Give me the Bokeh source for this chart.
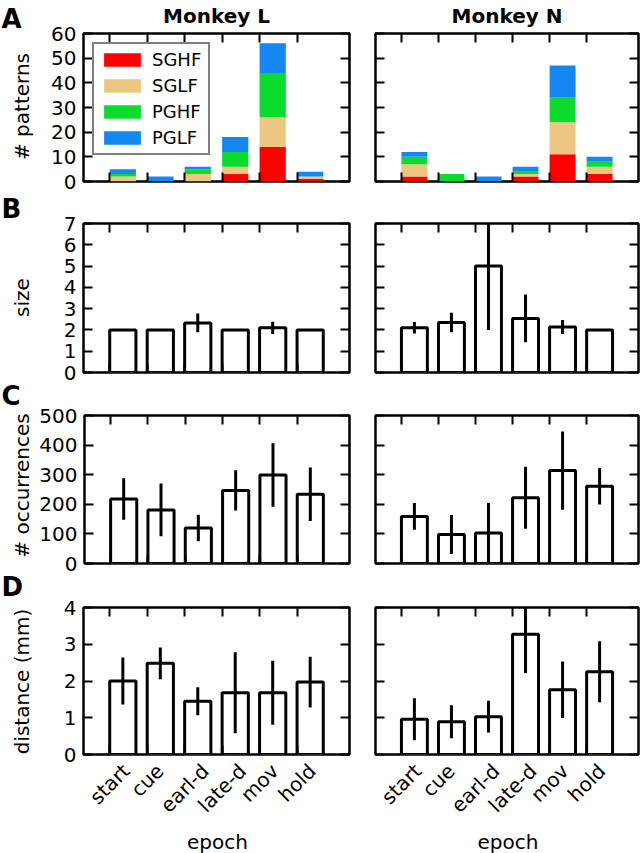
from math import pi, sqrt

from bokeh.plotting import figure
from bokeh.layouts import column, row
from bokeh.models import (Range1d, FixedTicker, LinearAxis, ColumnDataSource,
                          CustomJSTickFormatter)
from bokeh.core.properties import value
from bokeh.embed import file_html
from bokeh.resources import INLINE

# ---------------- data ----------------
EPOCHS = ["start", "cue", "earl-d", "late-d", "mov", "hold"]
CLASSES = ["SGHF", "SGLF", "PGHF", "PGLF"]
CLASS_COLORS = ["#FF0000", "#EDC682", "#0BDB2C", "#1487F2"]

# panel A: number of patterns (stacked)
PAT_L_SGHF = [0, 0, 0, 3, 14, 1]
PAT_L_SGLF = [2, 0, 3, 3, 12, 1]
PAT_L_PGHF = [1, 0, 2, 6, 18, 0]
PAT_L_PGLF = [2, 2, 1, 6, 12, 2]
PAT_N_SGHF = [2, 0, 0, 2, 11, 3]
PAT_N_SGLF = [5, 0, 0, 1, 13, 3]
PAT_N_PGHF = [3, 3, 0, 1, 10, 2]
PAT_N_PGLF = [2, 0, 2, 2, 13, 2]

# panel B: size
SIZE_L = [2.0, 2.0, 2.33, 2.0, 2.1, 2.0]
SIZE_L_ERR = [0.0, 0.0, 0.44, 0.0, 0.29, 0.0]
SIZE_N = [2.1, 2.35, 5.0, 2.54, 2.14, 2.0]
SIZE_N_ERR = [0.27, 0.46, 3.0, 1.12, 0.33, 0.0]

# panel C: occurrences
OCC_L = [218, 181, 120, 247, 299, 234]
OCC_L_ERR = [70, 89, 45, 68, 107, 90]
OCC_N = [159, 98, 103, 222, 314, 261]
OCC_N_ERR = [45, 66, 101, 105, 132, 62]

# panel D: distance (mm)
DIST_L = [2.0, 2.48, 1.45, 1.68, 1.68, 1.97]
DIST_L_ERR = [0.64, 0.43, 0.38, 1.1, 0.87, 0.69]
DIST_N = [0.96, 0.89, 1.03, 3.27, 1.76, 2.25]
DIST_N_ERR = [0.57, 0.45, 0.43, 1.05, 0.77, 0.83]

PANELS = ["A", "B", "C", "D"]
YLABELS = ["# patterns", "size", "# occurrences", "distance (mm)"]
XLABEL = "epoch"
X_TICKS = [0, 1, 2, 3, 4, 5]
YTICKS_A = [0, 10, 20, 30, 40, 50, 60]
YTICKS_B = [0, 1, 2, 3, 4, 5, 6, 7]
YTICKS_C = [0, 100, 200, 300, 400, 500]
YTICKS_D = [0, 1, 2, 3, 4]

# ---------------- styling / geometry ----------------
FONT = "DejaVu Sans"
BAR_W = 0.7
XC = [t + BAR_W / 2 for t in X_TICKS]   # bars are edge-aligned at the ticks
X_LO, X_HI = -0.7, 6.4

TOTAL_W, TOTAL_H = 640, 853
COL0_W = 36
L_BORDERS = (47, 13)   # left figure: left / right border
R_BORDERS = (13, 2)
L_FRAME_W, R_FRAME_W = 266, 263
# (top border, frame height, bottom border)
ROWS = {"A": (33, 148, 17), "B": (25, 149, 12), "C": (31, 148, 13), "D": (31, 147, 76)}
ROW_H = {k: sum(v) for k, v in ROWS.items()}
STRIP_H = TOTAL_H - sum(ROW_H.values())
# page positions (text centres) of the texts drawn in the margin strips
LETTER_MID_Y = {"A": 18.8, "B": 208.8, "C": 395.5, "D": 586.8}
YLABEL_MID_Y = {"A": 106, "B": 297, "C": 485, "D": 681}
YLABEL_MID_X = 21
XLABEL_MID_X = [217, 507.5]
XLABEL_MID_Y = 841.6

# DejaVu Sans advance widths (em) for centring the rotated epoch labels
ADV = {"s": .521, "t": .392, "a": .613, "r": .411, "c": .550, "u": .634,
       "e": .615, "l": .278, "-": .361, "d": .635, "m": .974, "o": .612,
       "v": .592, "h": .634}
TICK_FS = 20


def hide_labels(ax):
    ax.major_label_text_color = None
    ax.major_label_text_font_size = "0px"
    ax.major_label_standoff = 0


def style_axis(ax, ticks, show):
    ax.ticker = FixedTicker(ticks=ticks)
    ax.axis_line_color = None
    ax.major_tick_in = 9
    ax.major_tick_out = 0
    ax.major_tick_line_width = 2
    ax.major_tick_line_color = "black"
    ax.minor_tick_line_color = None
    ax.major_label_text_font = FONT
    if show:
        ax.major_label_text_color = "black"
        ax.major_label_text_font_size = "%dpx" % TICK_FS
        ax.major_label_standoff = 7
    else:
        hide_labels(ax)


def make_fig(panel, side, ymax, yticks):
    top, fh, bottom = ROWS[panel]
    if side == "L":
        (bl, br), fw = L_BORDERS, L_FRAME_W
    else:
        (bl, br), fw = R_BORDERS, R_FRAME_W
    p = figure(width=bl + fw + br, height=top + fh + bottom,
               x_range=Range1d(X_LO, X_HI), y_range=Range1d(0, ymax),
               output_backend="svg", toolbar_location=None,
               min_border_left=bl, min_border_right=br,
               min_border_top=top, min_border_bottom=bottom)
    p.xgrid.visible = False
    p.ygrid.visible = False
    p.outline_line_color = "black"
    p.outline_line_width = 2.5
    p.background_fill_color = "white"
    p.border_fill_color = "white"
    p.add_layout(LinearAxis(), "above")
    p.add_layout(LinearAxis(), "right")
    for ax in p.xaxis:
        style_axis(ax, X_TICKS, False)
    for ax in p.yaxis:
        style_axis(ax, yticks, False)
    if side == "L":
        style_axis(p.left[0], yticks, True)
    if panel == "A":
        p.title.text = "Monkey L" if side == "L" else "Monkey N"
        p.title.align = "center"
        p.title.vertical_align = "top"
        p.title.text_font = FONT
        p.title.text_font_size = "20px"
        p.title.text_font_style = "bold"
        p.title.text_color = "black"
        p.title.standoff = 7
    if panel == "D":
        # epoch names: an extra axis whose ticks sit so that each rotated
        # name is centred on its tick (as the reference does)
        px_per_unit = fw / (X_HI - X_LO)
        shifts = [sum(ADV[c] for c in name) * TICK_FS / (2 * sqrt(2)) / px_per_unit
                  for name in EPOCHS]
        lab_ticks = [round(t + s, 4) for t, s in zip(X_TICKS, shifts)]
        lab = LinearAxis(ticker=FixedTicker(ticks=lab_ticks),
                         formatter=CustomJSTickFormatter(
                             args=dict(names=EPOCHS), code="return names[index]"))
        lab.axis_line_color = None
        lab.major_tick_line_color = None
        lab.minor_tick_line_color = None
        lab.major_tick_out = 0
        lab.major_tick_in = 0
        lab.major_label_orientation = pi / 4
        lab.major_label_standoff = 13
        lab.major_label_text_font = FONT
        lab.major_label_text_font_size = "%dpx" % TICK_FS
        lab.major_label_text_color = "black"
        p.add_layout(lab, "below")
    return p


def stacked(p, parts, legend):
    data = dict(x=XC)
    for name, vals in zip(CLASSES, parts):
        data[name] = vals
    src = ColumnDataSource(data)
    kw = dict(legend_label=CLASSES) if legend else {}
    p.vbar_stack(CLASSES, x="x", width=BAR_W, source=src,
                 fill_color=CLASS_COLORS, line_color=None, **kw)
    if legend:
        lg = p.legend[0]
        lg.location = "top_left"
        lg.margin = 9
        lg.padding = 5
        lg.spacing = 5
        lg.glyph_width = 46
        lg.glyph_height = 17
        lg.label_height = 21
        lg.label_width = 51
        lg.label_standoff = 7
        lg.label_text_font = FONT
        lg.label_text_font_size = "18px"
        lg.label_text_color = "black"
        lg.border_line_color = "black"
        lg.border_line_width = 2.5
        lg.background_fill_color = "white"
        lg.background_fill_alpha = 1.0


def bars(p, vals, errs):
    p.vbar(x=XC, top=vals, width=BAR_W, bottom=0, fill_color="white",
           line_color="black", line_width=3)
    lo = [v - e for v, e in zip(vals, errs)]
    hi = [v + e for v, e in zip(vals, errs)]
    p.segment(x0=XC, y0=lo, x1=XC, y1=hi, line_color="black", line_width=3)


def text_strip(width, height, x0, y0):
    """A bare figure whose frame covers it; coordinates are page pixels."""
    s = figure(width=width, height=height, x_range=Range1d(x0, x0 + width),
               y_range=Range1d(TOTAL_H - y0 - height, TOTAL_H - y0),
               output_backend="svg", toolbar_location=None, min_border=0,
               x_axis_type=None, y_axis_type=None, outline_line_color=None)
    s.xgrid.visible = False
    s.ygrid.visible = False
    return s


aL = make_fig("A", "L", 60, YTICKS_A)
stacked(aL, [PAT_L_SGHF, PAT_L_SGLF, PAT_L_PGHF, PAT_L_PGLF], True)
aN = make_fig("A", "N", 60, YTICKS_A)
stacked(aN, [PAT_N_SGHF, PAT_N_SGLF, PAT_N_PGHF, PAT_N_PGLF], False)

bL = make_fig("B", "L", 7, YTICKS_B)
bars(bL, SIZE_L, SIZE_L_ERR)
bN = make_fig("B", "N", 7, YTICKS_B)
bars(bN, SIZE_N, SIZE_N_ERR)

cL = make_fig("C", "L", 500, YTICKS_C)
bars(cL, OCC_L, OCC_L_ERR)
cN = make_fig("C", "N", 500, YTICKS_C)
bars(cN, OCC_N, OCC_N_ERR)

dL = make_fig("D", "L", 4, YTICKS_D)
bars(dL, DIST_L, DIST_L_ERR)
dN = make_fig("D", "N", 4, YTICKS_D)
bars(dN, DIST_N, DIST_N_ERR)

# left margin column: panel letters and y-axis titles
col0 = text_strip(COL0_W, TOTAL_H, 0, 0)
col0.text(x=[1] * 4, y=[TOTAL_H - LETTER_MID_Y[k] for k in PANELS], text=PANELS,
          text_font=value(FONT), text_font_size="26px", text_font_style="bold",
          text_color="black", text_align="left", text_baseline="middle")
col0.text(x=[YLABEL_MID_X] * 4, y=[TOTAL_H - YLABEL_MID_Y[k] for k in PANELS],
          text=YLABELS, angle=pi / 2, text_font=value(FONT), text_font_size="20px",
          text_color="black", text_align="center", text_baseline="middle")

# bottom strip: x-axis titles
strip = text_strip(TOTAL_W - COL0_W, STRIP_H, COL0_W, TOTAL_H - STRIP_H)
strip.text(x=XLABEL_MID_X, y=[TOTAL_H - XLABEL_MID_Y] * 2, text=[XLABEL] * 2,
           text_font=value(FONT), text_font_size="20px", text_color="black",
           text_align="center", text_baseline="middle")

grid = column(row(aL, aN, spacing=0), row(bL, bN, spacing=0),
              row(cL, cN, spacing=0), row(dL, dN, spacing=0), strip, spacing=0)
layout = row(col0, grid, spacing=0)

open("out.html", "w").write(file_html(layout, INLINE))
